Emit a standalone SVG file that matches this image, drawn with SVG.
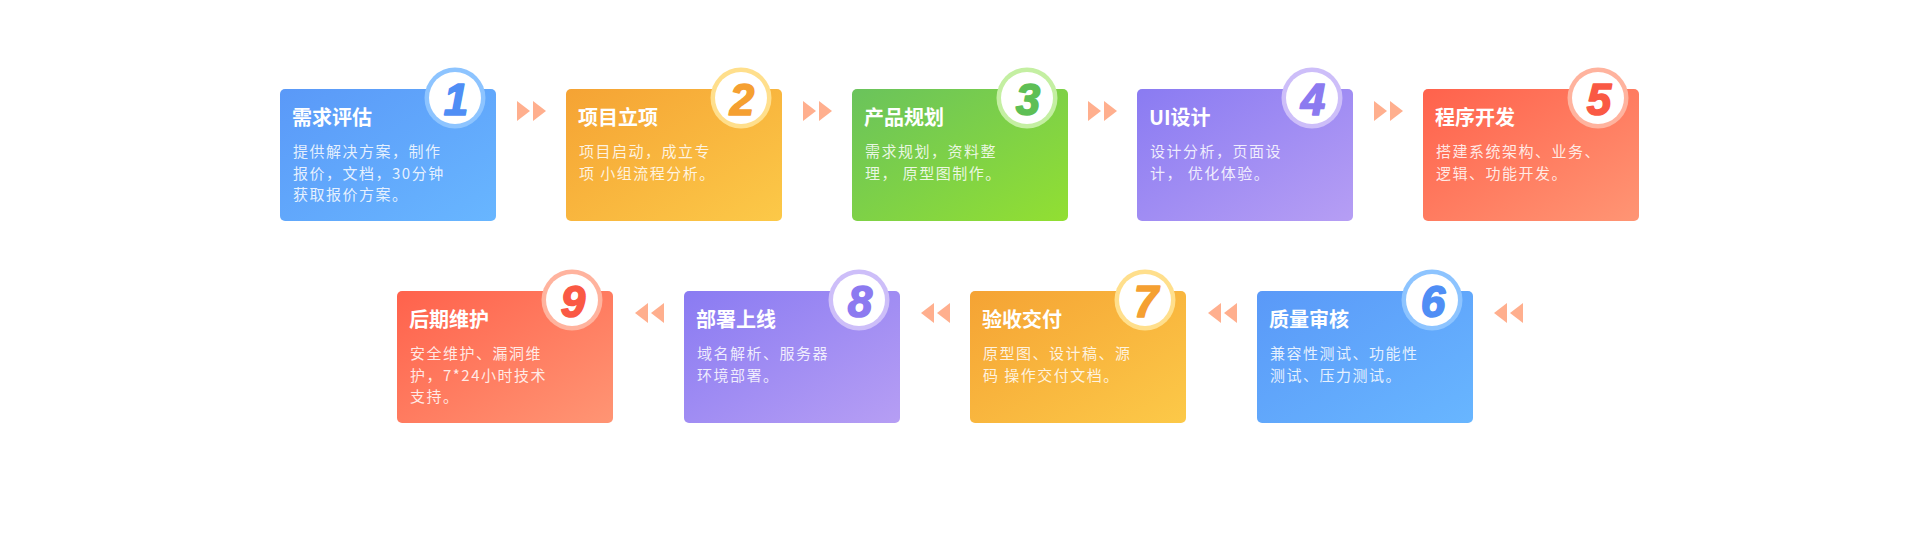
<svg xmlns="http://www.w3.org/2000/svg" width="1920" height="550" viewBox="0 0 1920 550">
<defs>
<linearGradient id="gBlue" x1="0" y1="0" x2="1" y2="1"><stop offset="0" stop-color="#5A99F8"/><stop offset="1" stop-color="#68B6FF"/></linearGradient>
<linearGradient id="gOrange" x1="0" y1="0" x2="1" y2="1"><stop offset="0" stop-color="#F5A334"/><stop offset="1" stop-color="#FCC948"/></linearGradient>
<linearGradient id="gGreen" x1="0" y1="0" x2="1" y2="1"><stop offset="0" stop-color="#6AC35C"/><stop offset="1" stop-color="#92DF32"/></linearGradient>
<linearGradient id="gPurple" x1="0" y1="0" x2="1" y2="1"><stop offset="0" stop-color="#8A7BF2"/><stop offset="1" stop-color="#B69EF4"/></linearGradient>
<linearGradient id="gRed" x1="0" y1="0" x2="1" y2="1"><stop offset="0" stop-color="#FF624C"/><stop offset="1" stop-color="#FF9574"/></linearGradient>
</defs>
<style>
.card{rx:5px;ry:5px}
.title{font-family:"Noto Sans CJK SC","Liberation Sans",sans-serif;font-size:20px;font-weight:bold;fill:#FFFFFF}
.body{font-family:"Noto Sans CJK SC","Liberation Sans",sans-serif;font-size:15px;fill:#FFFFFF;fill-opacity:0.85;letter-spacing:1.5px}
.inner{fill:#FFFFFF}
.num{font-family:"Liberation Sans",Arial,sans-serif;font-size:44px;font-weight:bold;font-style:italic;text-anchor:middle;stroke-width:1.6px;stroke-linejoin:round}
.arrow{fill:#FFAF8E}
</style>
<rect width="1920" height="550" fill="#FFFFFF"/>

<g id="connectors">
<polygon class="arrow" points="517,101 530,111 517,121"/><polygon class="arrow" points="533,101 546,111 533,121"/>
<polygon class="arrow" points="803,101 816,111 803,121"/><polygon class="arrow" points="819,101 832,111 819,121"/>
<polygon class="arrow" points="1088,101 1101,111 1088,121"/><polygon class="arrow" points="1104,101 1117,111 1104,121"/>
<polygon class="arrow" points="1374,101 1387,111 1374,121"/><polygon class="arrow" points="1390,101 1403,111 1390,121"/>
<polygon class="arrow" points="648,303 635,313 648,323"/><polygon class="arrow" points="664,303 651,313 664,323"/>
<polygon class="arrow" points="934,303 921,313 934,323"/><polygon class="arrow" points="950,303 937,313 950,323"/>
<polygon class="arrow" points="1221,303 1208,313 1221,323"/><polygon class="arrow" points="1237,303 1224,313 1237,323"/>
<polygon class="arrow" points="1507,303 1494,313 1507,323"/><polygon class="arrow" points="1523,303 1510,313 1523,323"/>
</g>

<g id="node1">
<rect class="card" x="280" y="89" width="216" height="132" fill="url(#gBlue)"/>
<text class="title" x="292" y="125">需求评估</text>
<text class="body" x="293" y="157">提供解决方案，制作</text>
<text class="body" x="293" y="178.5">报价，文档，30分钟</text>
<text class="body" x="293" y="200">获取报价方案。</text>
<circle cx="455" cy="98" r="30.5" fill="#8DC4FF"/>
<circle class="inner" cx="455" cy="98" r="26"/>
<text class="num" x="456" y="115" fill="#4F8EF5" stroke="#4F8EF5">1</text>
</g>

<g id="node2">
<rect class="card" x="566" y="89" width="216" height="132" fill="url(#gOrange)"/>
<text class="title" x="578" y="125">项目立项</text>
<text class="body" x="579" y="157">项目启动，成立专</text>
<text class="body" x="579" y="178.5">项 小组流程分析。</text>
<circle cx="741" cy="98" r="30.5" fill="#FFDF8C"/>
<circle class="inner" cx="741" cy="98" r="26"/>
<text class="num" x="742" y="115" fill="#F5A031" stroke="#F5A031">2</text>
</g>

<g id="node3">
<rect class="card" x="852" y="89" width="216" height="132" fill="url(#gGreen)"/>
<text class="title" x="864" y="125">产品规划</text>
<text class="body" x="865" y="157">需求规划，资料整</text>
<text class="body" x="865" y="178.5">理， 原型图制作。</text>
<circle cx="1027" cy="98" r="30.5" fill="#C4EFA2"/>
<circle class="inner" cx="1027" cy="98" r="26"/>
<text class="num" x="1028" y="115" fill="#5EBF55" stroke="#5EBF55">3</text>
</g>

<g id="node4">
<rect class="card" x="1137" y="89" width="216" height="132" fill="url(#gPurple)"/>
<text class="title" x="1149" y="125">UI设计</text>
<text class="body" x="1150" y="157">设计分析，页面设</text>
<text class="body" x="1150" y="178.5">计， 优化体验。</text>
<circle cx="1312" cy="98" r="30.5" fill="#CDBEF9"/>
<circle class="inner" cx="1312" cy="98" r="26"/>
<text class="num" x="1313" y="115" fill="#8C7AF0" stroke="#8C7AF0">4</text>
</g>

<g id="node5">
<rect class="card" x="1423" y="89" width="216" height="132" fill="url(#gRed)"/>
<text class="title" x="1435" y="125">程序开发</text>
<text class="body" x="1436" y="157">搭建系统架构、业务、</text>
<text class="body" x="1436" y="178.5">逻辑、功能开发。</text>
<circle cx="1598" cy="98" r="30.5" fill="#FFB39E"/>
<circle class="inner" cx="1598" cy="98" r="26"/>
<text class="num" x="1599" y="115" fill="#FA5944" stroke="#FA5944">5</text>
</g>

<g id="node6">
<rect class="card" x="1257" y="291" width="216" height="132" fill="url(#gBlue)"/>
<text class="title" x="1269" y="327">质量审核</text>
<text class="body" x="1270" y="359">兼容性测试、功能性</text>
<text class="body" x="1270" y="380.5">测试、压力测试。</text>
<circle cx="1432" cy="300" r="30.5" fill="#8DC4FF"/>
<circle class="inner" cx="1432" cy="300" r="26"/>
<text class="num" x="1433" y="317" fill="#4F8EF5" stroke="#4F8EF5">6</text>
</g>

<g id="node7">
<rect class="card" x="970" y="291" width="216" height="132" fill="url(#gOrange)"/>
<text class="title" x="982" y="327">验收交付</text>
<text class="body" x="983" y="359">原型图、设计稿、源</text>
<text class="body" x="983" y="380.5">码 操作交付文档。</text>
<circle cx="1145" cy="300" r="30.5" fill="#FFDF8C"/>
<circle class="inner" cx="1145" cy="300" r="26"/>
<text class="num" x="1146" y="317" fill="#F5A031" stroke="#F5A031">7</text>
</g>

<g id="node8">
<rect class="card" x="684" y="291" width="216" height="132" fill="url(#gPurple)"/>
<text class="title" x="696" y="327">部署上线</text>
<text class="body" x="697" y="359">域名解析、服务器</text>
<text class="body" x="697" y="380.5">环境部署。</text>
<circle cx="859" cy="300" r="30.5" fill="#CDBEF9"/>
<circle class="inner" cx="859" cy="300" r="26"/>
<text class="num" x="860" y="317" fill="#8C7AF0" stroke="#8C7AF0">8</text>
</g>

<g id="node9">
<rect class="card" x="397" y="291" width="216" height="132" fill="url(#gRed)"/>
<text class="title" x="409" y="327">后期维护</text>
<text class="body" x="410" y="359">安全维护、漏洞维</text>
<text class="body" x="410" y="380.5">护，7*24小时技术</text>
<text class="body" x="410" y="402">支持。</text>
<circle cx="572" cy="300" r="30.5" fill="#FFB39E"/>
<circle class="inner" cx="572" cy="300" r="26"/>
<text class="num" x="573" y="317" fill="#FA5944" stroke="#FA5944">9</text>
</g>
</svg>
